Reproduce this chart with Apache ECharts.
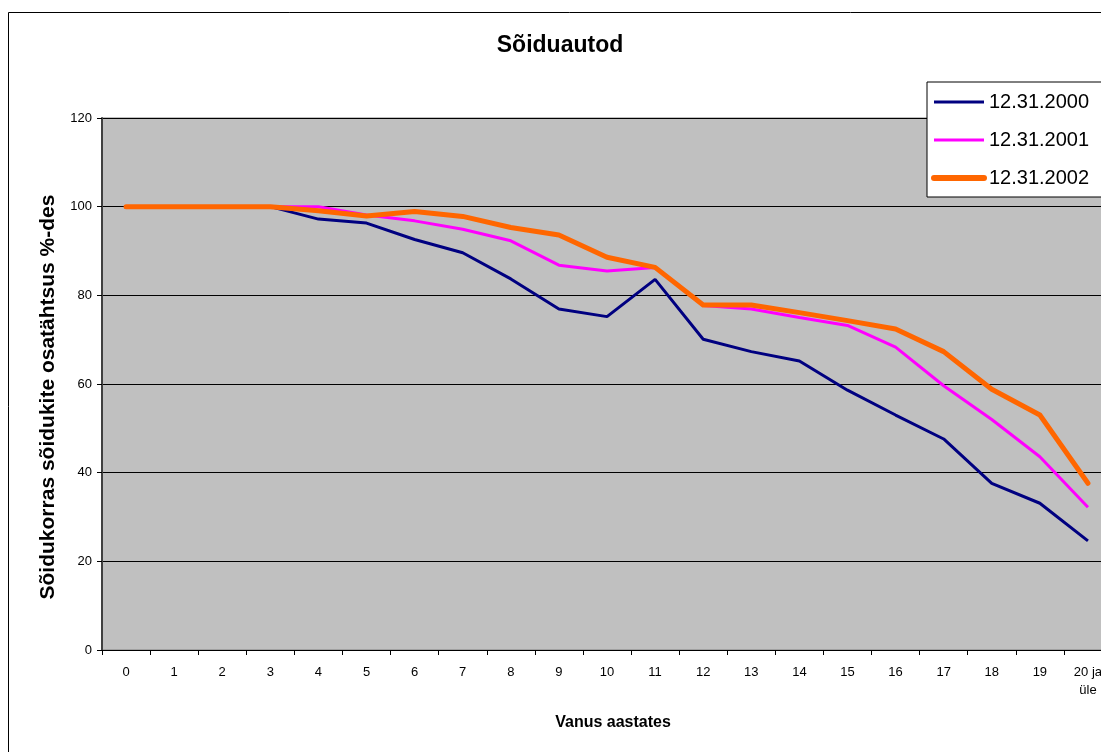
<!DOCTYPE html>
<html>
<head>
<meta charset="utf-8">
<script src="https://cdn.jsdelivr.net/npm/echarts@6/dist/echarts.min.js"></script>
<style>
html,body{margin:0;padding:0;overflow:hidden;background:#fff;width:1101px;height:752px;}
#c{position:absolute;left:0;top:0;width:1130px;height:800px;}
</style>
</head>
<body>
<div id="c"></div>
<script>
const categories = ['0','1','2','3','4','5','6','7','8','9','10','11','12','13','14','15','16','17','18','19','20 ja\nüle'];
const s2000 = [100,100,100,100,97.2,96.3,92.6,89.6,83.7,76.9,75.2,83.6,70.1,67.3,65.2,58.6,53.0,47.6,37.6,33.1,24.6];
const s2001 = [100,100,100,100,100,98.1,96.8,94.9,92.3,86.8,85.5,86.3,77.7,76.9,75.0,73.2,68.3,59.6,52.0,43.6,32.2];
const s2002 = [100,100,100,100,99.1,97.9,98.9,97.8,95.3,93.6,88.6,86.3,77.8,77.8,76.1,74.3,72.4,67.3,58.8,53.0,37.6];
const names = ['12.31.2000','12.31.2001','12.31.2002'];
const yTicks = {min:0, max:120, interval:20};
const titleText = 'Sõiduautod';
const yName = 'Sõidukorras sõidukite osatähtsus %-des';
const xName = 'Vanus aastates';

const chart = echarts.init(document.getElementById('c'), null, {renderer:'canvas'});
const font = 'Liberation Sans, Arial, sans-serif';
chart.setOption({
  animation:false,
  textStyle:{fontFamily:font, color:'#000'},
  graphic:[
    {type:'rect', shape:{x:8.5, y:12.5, width:1200, height:900}, style:{fill:'none', stroke:'#000', lineWidth:1}, z:-10},
    {type:'text', x:48, y:397, rotation:Math.PI/2, style:{text:yName, fontFamily:font, fontSize:21, fontWeight:'bold', fill:'#000', align:'center', verticalAlign:'middle'}},
    {type:'text', x:613, y:723, style:{text:xName, fontFamily:font, fontSize:16, fontWeight:'bold', fill:'#000', align:'center', verticalAlign:'middle'}},
    {type:'text', x:560, y:46, style:{text:titleText, fontFamily:font, fontSize:23, fontWeight:'bold', fill:'#000', align:'center', verticalAlign:'middle'}}
  ],
  legend:{
    orient:'vertical', left:927, top:82,
    itemWidth:50, itemHeight:14, itemGap:18,
    padding:[10,20,9,4],
    backgroundColor:'#fff', borderColor:'#000', borderWidth:1,
    textStyle:{fontFamily:font, fontSize:20, color:'#000'},
    itemStyle:{opacity:0},
    data:[
      {name:names[0], lineStyle:{width:3}},
      {name:names[1], lineStyle:{width:3}},
      {name:names[2], lineStyle:{width:6, cap:'round'}}
    ]
  },
  grid:{left:102, right:18, top:118, bottom:150, containLabel:false, show:true, backgroundColor:'#C0C0C0', borderColor:'#808080', borderWidth:1},
  xAxis:{
    type:'category', data:categories, boundaryGap:true,
    axisLine:{lineStyle:{color:'#000', width:1}},
    axisTick:{show:true, length:5, lineStyle:{color:'#000'}},
    axisLabel:{fontFamily:font, fontSize:13, color:'#000', margin:13, interval:0, lineHeight:18}
  },
  yAxis:{
    type:'value', min:yTicks.min, max:yTicks.max, interval:yTicks.interval,
    axisLine:{show:true, lineStyle:{color:'#404040', width:2}},
    axisTick:{show:true, length:5, lineStyle:{color:'#000'}},
    axisLabel:{fontFamily:font, fontSize:13, color:'#000', margin:10},
    splitLine:{show:true, lineStyle:{color:'#000', width:1}}
  },
  series:[
    {name:names[0], type:'line', data:s2000, symbol:'none', lineStyle:{color:'#000080', width:3}, itemStyle:{color:'#000080'}, z:2},
    {name:names[1], type:'line', data:s2001, symbol:'none', lineStyle:{color:'#FF00FF', width:3}, itemStyle:{color:'#FF00FF'}, z:3},
    {name:names[2], type:'line', data:s2002, symbol:'none', lineStyle:{color:'#FF6600', width:5, cap:'round', join:'round'}, itemStyle:{color:'#FF6600'}, z:4}
  ]
});
</script>
</body>
</html>
